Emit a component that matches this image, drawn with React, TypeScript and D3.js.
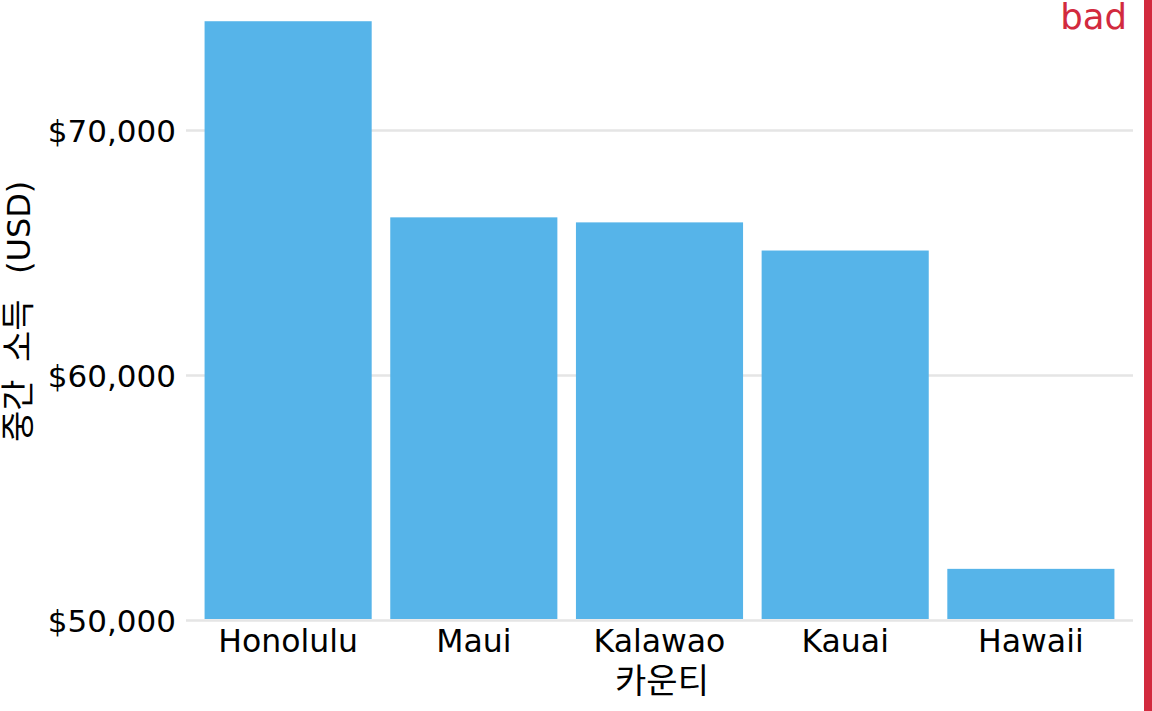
import React from "react";
import * as d3 from "d3";

const counties = ["Honolulu", "Maui", "Kalawao", "Kauai", "Hawaii"];
const incomes = [74460, 66455, 66250, 65101, 52108];
const yTicks = [50000, 60000, 70000];
const xTitle = "카운티";
const yTitleParts = ["중간", "소득", "(USD)"];

const W = 1152;
const H = 711;
const FONT = "'DejaVu Sans', 'Noto Sans CJK KR', sans-serif";
const KR = "'Noto Sans CJK KR', 'DejaVu Sans', sans-serif";

export default function App() {
  const x = d3.scaleBand<string>().domain(counties).range([186, 1133]).paddingInner(0.1).paddingOuter(0.1);
  const y = d3.scaleLinear().domain([50000, 70000]).range([620.5, 130.5]);
  const fmt = (v: number) => "$" + d3.format(",")(v);

  return (
    <svg width={W} height={H} style={{ position: "absolute", left: 0, top: 0, background: "#fff" }} fontFamily={FONT}>
      {yTicks.map((t) => (
        <g key={t}>
          <line x1={186} x2={1133} y1={y(t)} y2={y(t)} stroke="#e5e5e5" strokeWidth={2.5} />
          <text x={176} y={y(t)} dy="0.36em" textAnchor="end" fontSize={31} fill="#000">
            {fmt(t)}
          </text>
        </g>
      ))}
      {counties.map((c, i) => (
        <rect
          key={c}
          x={x(c)}
          width={x.bandwidth()}
          y={y(incomes[i])}
          height={y(50000) - 1.5 - y(incomes[i])}
          fill="#56B4E9"
        />
      ))}
      {counties.map((c) => (
        <text key={c} x={(x(c) as number) + x.bandwidth() / 2} y={652} textAnchor="middle" fontSize={31.5} fill="#000">
          {c}
        </text>
      ))}
      <text x={662} y={693} textAnchor="middle" fontSize={34} fill="#000" fontFamily={KR}>
        {xTitle}
      </text>
      <g transform="translate(30,0) rotate(-90)">
        <text fill="#000">
          <tspan x={-442} fontFamily={KR} fontSize={34}>{yTitleParts[0]}</tspan>
          <tspan x={-362} fontFamily={KR} fontSize={34}>{yTitleParts[1]}</tspan>
          <tspan x={-274} fontFamily={FONT} fontSize={32}>{yTitleParts[2]}</tspan>
        </text>
      </g>
      <rect x={1144} y={0} width={8} height={H} fill="#d22a3e" />
      <text x={1127} y={29} textAnchor="end" fontSize={35.5} fill="#d22a3e">
        bad
      </text>
    </svg>
  );
}
